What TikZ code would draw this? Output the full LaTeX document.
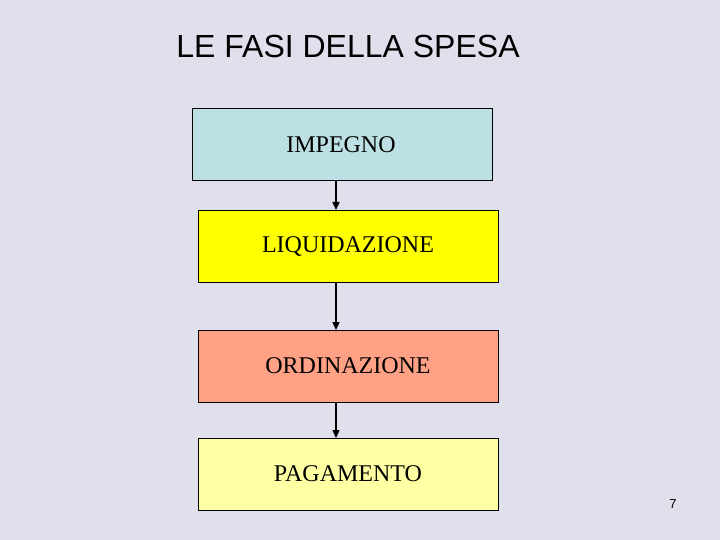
\documentclass[tikz,border=0pt]{standalone}
\usepackage{fontspec}
\setmainfont{Liberation Serif}
\newfontfamily\arialfont{Liberation Sans}
\usetikzlibrary{arrows.meta}
\definecolor{bgc}{HTML}{E0E0EC}
\definecolor{c1}{HTML}{BCE0E3}
\definecolor{c2}{HTML}{FFFF00}
\definecolor{c3}{HTML}{FFA185}
\definecolor{c4}{HTML}{FFFFA3}
\tikzset{
  phase/.style={draw=black, line width=0.9pt, minimum width=300pt, minimum height=72pt, inner sep=0pt, font=\fontsize{24}{28}\selectfont},
  link/.style={draw=black, line width=1.3pt, -{Triangle[length=8pt,width=7pt]}}
}
\begin{document}
\begin{tikzpicture}[x=1pt,y=-1pt]
\fill[bgc] (0,0) rectangle (720,540);
\useasboundingbox (0,0) rectangle (720,540);
\node[font=\arialfont\fontsize{32}{36}\selectfont] (title) at (348,46) {LE FASI DELLA SPESA};
\node[phase, fill=c1] (imp) at (342,144) {};
\node at (341,145) [font=\fontsize{24}{28}\selectfont] (impt) {IMPEGNO};
\node[phase, fill=c2] (liq) at (348,246) {LIQUIDAZIONE};
\node[phase, fill=c3] (ord) at (348,366) {ORDINAZIONE};
\node[phase, fill=c4] (pag) at (348,474) {PAGAMENTO};
\coordinate (a1) at (336,180);
\coordinate (b1) at (336,210);
\coordinate (a2) at (336,282);
\coordinate (b2) at (336,330);
\coordinate (a3) at (336,402);
\coordinate (b3) at (336,438);
\draw[link] (a1) -- (b1);
\draw[link] (a2) -- (b2);
\draw[link] (a3) -- (b3);
\node[font=\arialfont\fontsize{13}{15}\selectfont] (num) at (673,504) {7};
\end{tikzpicture}
\end{document}
